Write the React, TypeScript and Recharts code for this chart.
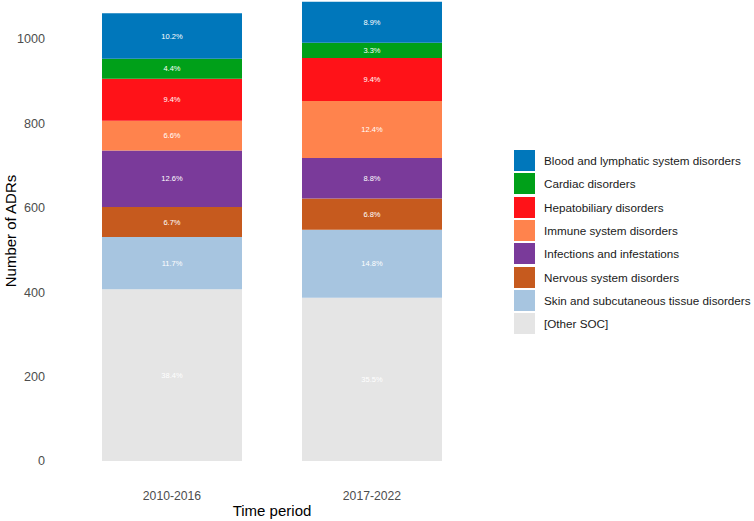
import React from "react";
import {
  BarChart,
  Bar,
  XAxis,
  YAxis,
  Legend,
  Label,
  LabelList,
} from "recharts";

// time periods on the x axis
const periods = ["2010-2016", "2017-2022"];

// counts of ADRs per system organ class, one value per period
const otherSoc = [407, 387];
const skin = [124, 161];
const nervous = [71, 74];
const infections = [134, 96];
const immune = [70, 135];
const hepatobiliary = [100, 102];
const cardiac = [47, 36];
const blood = [108, 97];

// percentage labels printed inside the segments
const otherSocPct = ["38.4%", "35.5%"];
const skinPct = ["11.7%", "14.8%"];
const nervousPct = ["6.7%", "6.8%"];
const infectionsPct = ["12.6%", "8.8%"];
const immunePct = ["6.6%", "12.4%"];
const hepatobiliaryPct = ["9.4%", "9.4%"];
const cardiacPct = ["4.4%", "3.3%"];
const bloodPct = ["10.2%", "8.9%"];

const yTicks = [0, 200, 400, 600, 800, 1000];

// stacked bottom to top
const SERIES = [
  { key: "other", name: "[Other SOC]", color: "#E5E5E5", values: otherSoc, labels: otherSocPct },
  { key: "skin", name: "Skin and subcutaneous tissue disorders", color: "#A7C5E0", values: skin, labels: skinPct },
  { key: "nervous", name: "Nervous system disorders", color: "#C65A1E", values: nervous, labels: nervousPct },
  { key: "infections", name: "Infections and infestations", color: "#7A3A9A", values: infections, labels: infectionsPct },
  { key: "immune", name: "Immune system disorders", color: "#FF834D", values: immune, labels: immunePct },
  { key: "hepato", name: "Hepatobiliary disorders", color: "#FF1218", values: hepatobiliary, labels: hepatobiliaryPct },
  { key: "cardiac", name: "Cardiac disorders", color: "#00A019", values: cardiac, labels: cardiacPct },
  { key: "blood", name: "Blood and lymphatic system disorders", color: "#0077BB", values: blood, labels: bloodPct },
];

const data = periods.map((period, i) => {
  const row: Record<string, string | number> = { period };
  SERIES.forEach((s) => {
    row[s.key] = s.values[i];
    row[s.key + "Label"] = s.labels[i];
  });
  return row;
});

const FONT = '"Liberation Sans", Arial, sans-serif';

// legend lists the top of the stack first
const legendRank = (name: string) =>
  -SERIES.findIndex((s) => s.name === name);

const LegendContent = (props: any) => {
  const items = [...(props.payload ?? [])].sort(
    (a: any, b: any) => legendRank(a.value) - legendRank(b.value)
  );
  return (
    <div style={{ fontFamily: FONT, whiteSpace: "nowrap" }}>
      {items.map((item: any) => (
        <div
          key={item.value}
          style={{ display: "flex", alignItems: "center", height: 23.3 }}
        >
          <div
            style={{
              width: 21,
              height: 21,
              flexShrink: 0,
              background: item.color,
              marginRight: 9,
            }}
          />
          <span style={{ fontSize: 11.7, color: "#1a1a1a" }}>{item.value}</span>
        </div>
      ))}
    </div>
  );
};

const YTitle = (props: any) => {
  const vb = props.viewBox ?? { x: 0, y: 0, height: 0 };
  const cy = vb.y + vb.height / 2;
  const x = 16;
  return (
    <text
      x={x}
      y={cy}
      transform={`rotate(-90, ${x}, ${cy})`}
      textAnchor="middle"
      fontSize={15}
      fill="#000"
      fontFamily={FONT}
    >
      Number of ADRs
    </text>
  );
};

export default function App() {
  return (
    <div
      style={{
        position: "absolute",
        left: 0,
        top: 0,
        width: 754,
        height: 521,
        background: "#fff",
        fontFamily: FONT,
      }}
    >
      <BarChart
        width={754}
        height={521}
        data={data}
        margin={{ top: 1, right: 262, bottom: 0, left: 0 }}
      >
        <XAxis
          dataKey="period"
          axisLine={false}
          tickLine={false}
          tickSize={6}
          tickMargin={24}
          height={60}
          padding={{ left: 20, right: 20 }}
          tick={{ fontSize: 12.2, fill: "#4D4D4D", fontFamily: FONT }}
        >
          <Label
            value="Time period"
            position="insideBottom"
            offset={5}
            fontSize={15}
            fill="#000"
            fontFamily={FONT}
          />
        </XAxis>
        <YAxis
          width={52}
          domain={[0, 1090]}
          ticks={yTicks}
          allowDataOverflow
          axisLine={false}
          tickLine={false}
          tickSize={5}
          tickMargin={2}
          tick={{ fontSize: 12.6, fill: "#4D4D4D", fontFamily: FONT }}
        >
          <Label content={YTitle} />
        </YAxis>
        <Legend
          layout="vertical"
          align="center"
          verticalAlign="middle"
          content={LegendContent}
          wrapperStyle={{ left: 514, top: 149, width: 240 }}
        />
        {SERIES.map((s) => (
          <Bar
            key={s.key}
            dataKey={s.key}
            name={s.name}
            stackId="a"
            fill={s.color}
            barSize={140}
            isAnimationActive={false}
          >
            <LabelList
              dataKey={s.key + "Label"}
              position="center"
              fill="#fff"
              fontSize={7.5}
              fontFamily={FONT}
            />
          </Bar>
        ))}
      </BarChart>
    </div>
  );
}
